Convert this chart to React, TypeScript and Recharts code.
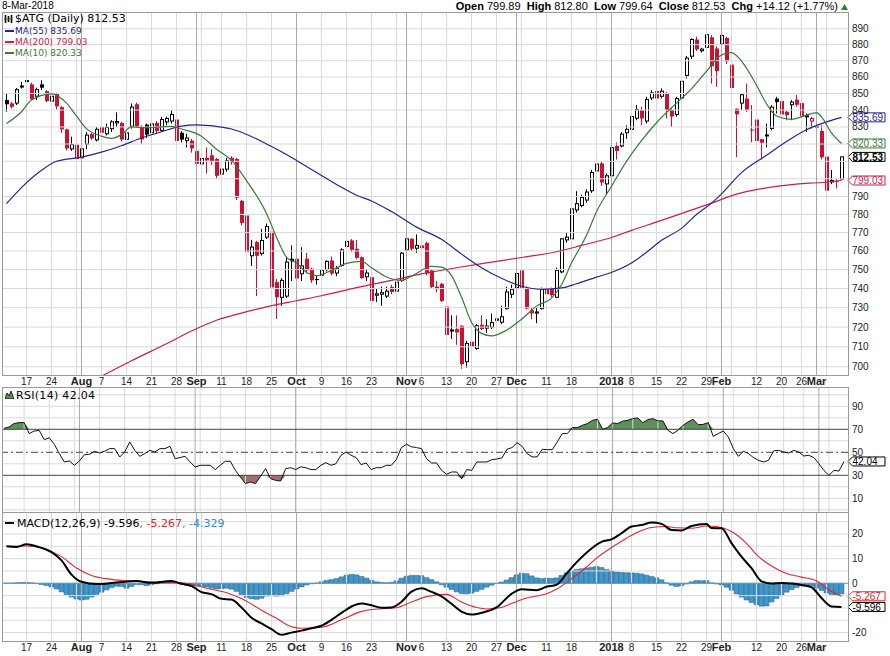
import React from 'react';
import {
  ComposedChart, Bar, Line, Area, XAxis, YAxis, ReferenceLine, ReferenceDot,
} from 'recharts';

// trading calendar (weekdays minus market holidays)
const holidays = ['2017-09-04', '2017-12-25', '2017-12-26', '2018-01-01', '2018-02-19'];

const open = [
  846, 844, 844.2, 854.3, 857.6, 855.5, 848.3, 855.5, 851.4, 845.4,
  849.8, 841.8, 828.6, 817.2, 819.7, 812, 820, 825.8, 822.4, 830,
  826, 829, 832.4, 832.4, 822.7, 830.4, 843.5, 830, 831.4, 826.6,
  832.4, 828, 833, 833.5, 834.4, 826.6, 822, 822, 816, 808.5,
  812, 813.5, 811.3, 802.7, 805.5, 812, 811.3, 787.6, 779.4, 757.4,
  764.8, 758.7, 767.5, 770.5, 743.4, 735.4, 736, 755.8, 755.8, 747.8,
  755.8, 750.5, 745, 747, 750, 754.9, 748.2, 752.3, 762.5, 765.7,
  761.2, 756.6, 746.2, 746, 736.5, 737, 736, 740.8, 738.6, 744.3,
  760.6, 766.6, 761.5, 763, 764.3, 749.6, 741, 742.5, 730.6, 718,
  719, 720.7, 702.5, 712.5, 709.2, 721.2, 719.5, 720, 723.5, 722.5,
  729.5, 737, 740.5, 749.6, 740.2, 728.7, 727.2, 729.5, 739.6, 739.6,
  735.4, 748.8, 766, 766.6, 782.5, 785, 788, 793.2, 804.5, 808.8,
  797.1, 801.7, 818.9, 818.9, 826.6, 828.6, 835.2, 840, 833.5, 847.3,
  851.4, 848.3, 850.3, 840.2, 837.4, 847.3, 861, 872.8, 883.2, 876.2,
  878.3, 884.6, 877.6, 880.4, 884.2, 867.6, 840.8, 844.2, 846.9, 828.5,
  834.4, 822.8, 825, 829.2, 846.9, 845.4, 839, 843.2, 846.3, 844.2,
  836.3, 833.5, 830.4, 827.6, 812.7, 798.2, 798.9, 799.89,
];
const high = [
  850, 845, 853.3, 857, 859.5, 856.5, 853.5, 858, 852, 849.5,
  850.5, 842.4, 829, 824.3, 820, 821, 827, 826.5, 830, 831,
  832, 834, 838.7, 833, 827.5, 844, 844.5, 831, 832, 834,
  833.5, 836, 836, 840, 835, 827.5, 826, 823, 817, 814,
  818, 817, 812, 812, 812, 813, 812, 788, 780, 766,
  765.5, 772, 775, 771, 745, 745.5, 757, 763, 756, 762,
  759, 751, 747, 752, 755, 757, 752, 761.5, 771, 766.5,
  766, 757, 750, 747, 740, 741, 741, 742, 744.5, 759.5,
  770, 767, 769, 764, 765, 750, 744, 743, 733, 726,
  726, 721, 713, 714, 721.5, 726, 724, 727, 728, 731,
  741, 742, 752, 757.4, 741, 730, 730, 740.5, 741, 740.5,
  751, 767, 770, 784, 793, 791, 794, 805, 810, 810,
  803, 819, 821, 827, 831, 837, 843, 842, 848, 852,
  853, 853, 851, 841, 848, 859, 873, 884, 885, 878,
  888, 886, 879, 897, 885, 868, 841, 850, 856, 843,
  835, 823, 832, 843, 848, 846, 840, 846, 849, 845,
  838, 836, 831, 831, 813, 805, 800, 812.8,
];
const low = [
  839, 841, 843, 853, 856.5, 845.8, 846, 852, 844.8, 843.3,
  840.3, 826.4, 816.3, 816, 808, 810, 817, 822.5, 821.5, 825.5,
  825, 827, 830, 821.5, 821.5, 829, 829.5, 820, 823.5, 825.5,
  826.5, 827, 831, 832, 819, 821, 818, 815, 806, 802,
  803, 808, 800, 797, 804, 808, 788, 774, 758, 752,
  736, 757.5, 766.5, 738, 724.1, 731, 735, 744, 740, 744,
  748, 743, 742, 744, 749, 747, 746.5, 751.5, 761.5, 759.5,
  755.5, 745, 744, 733, 733, 731, 735, 737, 737.5, 743.5,
  760, 760, 759, 759.5, 747, 740, 738, 733, 715.5, 714,
  711, 699, 699.5, 709, 708.5, 718.5, 717, 719, 721, 721.5,
  729, 735, 740, 739.5, 729, 724, 722, 729, 736, 735.5,
  735, 748, 764.5, 766, 781, 784, 786.5, 792, 803, 796,
  791, 800, 811, 818, 823, 827, 834, 831, 832, 846,
  845, 847, 835, 830, 836, 846, 859, 871, 876, 875,
  877, 856, 854, 878, 868, 849, 812.4, 840, 839, 821,
  821, 811, 818, 828, 838, 836, 834, 834, 842, 834,
  827, 829, 828, 811, 792, 797, 794.5, 799.64,
];
const close = [
  843.5, 842, 852.3, 854.5, 857.8, 846.5, 852.3, 853.5, 845.4, 848.3,
  842.2, 828.6, 817.4, 819.7, 811.3, 817.2, 825.2, 823.3, 828.6, 826.6,
  829.7, 833, 833.2, 822.6, 826.5, 841.8, 830.4, 822.7, 825.5, 831.8,
  827.6, 834.4, 835, 837.4, 821.8, 822.6, 823.5, 817.4, 808.5, 811.6,
  810.5, 809.9, 801.7, 805.5, 810.3, 809.8, 789.3, 775.3, 759.4, 762.1,
  757.4, 765.7, 773.3, 740.6, 735.4, 744.3, 754, 754.5, 745.3, 752,
  749.6, 744.3, 744.5, 749.6, 754.4, 747.9, 750.5, 760.6, 765.2, 760.6,
  756.3, 745.6, 748.2, 733.5, 737.2, 737.8, 738.6, 738.2, 743.4, 758.8,
  766.6, 761.2, 763, 761.5, 747.9, 740.8, 739.6, 733.5, 716, 718.5,
  717.3, 701.3, 711.7, 710, 720.7, 719, 720.5, 722.3, 724.2, 725.3,
  738.2, 739.6, 747.9, 740.2, 729.5, 727, 727.8, 739.6, 737, 736.5,
  749.6, 766.6, 767.5, 783.1, 786, 789.5, 792.5, 803.6, 808.4, 797.9,
  801.7, 817.9, 816, 825.8, 828.6, 836.2, 840.2, 835, 846.3, 850.3,
  846.9, 851.4, 840.2, 836.2, 846.9, 857.4, 871.6, 883.2, 877, 877.2,
  886.2, 866.6, 863.6, 885.8, 869.6, 853.3, 837.5, 849.2, 840.2, 828,
  821.8, 820.8, 825.3, 841.8, 844.8, 837.4, 837, 844.8, 843.2, 836.2,
  836.6, 835, 829.4, 812.3, 793.2, 799, 798.41, 812.53,
];

// moving averages, read at [bar index, value]
const ma10Pts = [
  [0, 832], [3, 839], [5, 846], [9, 849.8], [12, 844.2], [14, 836.5], [16, 829], [19, 824.6],
  [21, 823.3], [23, 825.5], [25, 830], [28, 829.5], [31, 830], [33, 830.4], [35, 828.8],
  [39, 824.6], [42, 817], [45, 810.5], [48, 799], [52, 780.5], [54, 767.5], [56, 756.6],
  [58, 753.5], [60, 748.5], [62, 746.8], [65, 749.6], [68, 753.3], [71, 754.4], [73, 751],
  [76, 746.1], [79, 744.3], [81, 746.5], [85, 751.7], [87, 751.3], [89, 746.8], [91, 735.5],
  [93, 722.5], [95, 716.8], [97, 715.5], [100, 718.4], [103, 724], [106, 730.8], [109, 735],
  [111, 742], [113, 753.5], [116, 768.5], [118, 781.5], [121, 795.8], [124, 810], [127, 822],
  [130, 832.5], [134, 844.2], [137, 852.8], [140, 863.5], [143, 873.5], [145, 875],
  [147, 869.8], [150, 855], [152, 843.8], [154, 836.5], [157, 834.5], [160, 837],
  [162, 838.5], [163, 836], [165, 826.5], [167, 820.33],
];
const ma55Pts = [
  [0, 786], [3, 795], [7, 804.8], [10, 810], [15, 812.4], [19, 815.3], [23, 819], [27, 823.5],
  [31, 827.2], [35, 830.5], [38, 831.2], [42, 830.3], [45, 828.8], [49, 824.4], [52, 820],
  [55, 815.5], [58, 810.5], [61, 805.3], [66, 796.8], [70, 790.7], [73, 787.5], [77, 781.6],
  [82, 773], [87, 766.3], [91, 758.3], [95, 751], [99, 745.4], [103, 741.2], [107, 739.6],
  [111, 740.3], [114, 742.5], [118, 746], [121, 748.5], [125, 753.5], [128, 759.3],
  [131, 765.8], [135, 772.3], [138, 780], [141, 786.3], [143, 791.5], [147, 803.5],
  [152, 813.5], [156, 821.5], [160, 828.4], [163, 832], [167, 835.69],
];
const ma200Pts = [
  [19, 695.3], [25, 703], [32, 711.5], [37, 718], [42, 723.5], [47, 727.2], [52, 730.4],
  [58, 733.6], [63, 736.2], [70, 740.5], [77, 744.3], [83, 747.7], [90, 751], [97, 754],
  [103, 756.5], [110, 759.6], [115, 763], [121, 767.3], [125, 771.2], [131, 776.7],
  [135, 780.5], [141, 786.3], [146, 791.3], [151, 794.4], [158, 797], [163, 797.9],
  [167, 799.03],
];

const rsi14 = [
  70.8, 72, 75, 75.8, 75.8, 66.3, 68.5, 69, 61, 62.6,
  57, 48.9, 41.6, 42.5, 38.7, 42.5, 48, 48.3, 50.9, 49.4,
  50.9, 53.2, 53.2, 45.9, 50.3, 59, 51.7, 46.5, 48.9, 51.7,
  50.3, 53.2, 53.2, 55.2, 44.5, 45.4, 46.5, 41.6, 37.2, 38.7,
  38.7, 38.7, 35, 38.7, 42.2, 42.2, 34.3, 28.5, 22.8, 24.2,
  22.8, 29.1, 35.8, 27.1, 25.6, 25, 35.8, 36.6, 35, 37.4,
  36.6, 35, 35, 38.7, 41, 38.7, 40.1, 47.4, 50.3, 47.4,
  45.4, 39.3, 40.7, 35, 36.6, 36.6, 38.7, 38.7, 43.6, 54.1,
  57, 54.8, 54.1, 53.2, 44.5, 40.7, 40.7, 34.3, 30.9, 32.9,
  32.9, 27.1, 35, 34.3, 41.6, 41.6, 41.6, 43.6, 44.2, 45.1,
  52.6, 54.1, 58.4, 55.2, 48.9, 46, 46, 52.6, 52.3, 52.3,
  59, 66.3, 66.3, 71.5, 71.5, 73.5, 75, 77.8, 78.7, 70,
  71.5, 75.5, 75, 77.1, 77.8, 79.3, 79.9, 75.8, 78.4, 79.3,
  77.3, 77.3, 69.1, 66.3, 69.1, 73.5, 76.4, 78.7, 74, 74.3,
  75.8, 63.9, 66.3, 68.5, 63.3, 53.2, 46.5, 50.9, 48.9, 45.4,
  43, 41.6, 43, 51.2, 51.7, 50.3, 49.4, 51.7, 50.3, 46.8,
  47.4, 45.4, 40.1, 34.3, 30, 34.3, 33.7, 42.04,
];

const macdPts = [
  [0, 15], [2, 14.7], [4, 15.8], [6, 15], [9, 12.6], [11, 9.3], [13, 3.5], [15, 0.6],
  [18, -0.3], [22, 0.3], [26, 0.9], [29, 0.2], [33, 0.9], [35, -0.2], [37, -1.1], [39, -3.6],
  [41, -4.4], [43, -6.3], [45, -6.6], [47, -9.8], [49, -14], [51, -16.3], [53, -18.6],
  [55, -20.9], [57, -20], [59, -19.2], [61, -18.2], [63, -17.2], [65, -14.8], [67, -12],
  [69, -9.4], [71, -8.2], [73, -8.9], [75, -9.9], [77, -9.8], [79, -7.5], [81, -3.4],
  [83, -2], [85, -3.5], [87, -5.3], [89, -8.3], [91, -11.5], [93, -12.7], [95, -12],
  [98, -9.8], [101, -4.3], [103, -2.4], [106, -2.8], [108, -1.4], [110, -0.6], [112, 3.9],
  [114, 8.5], [116, 12.4], [119, 16.8], [121, 17.8], [123, 20.3], [125, 23], [127, 23.6],
  [129, 24.6], [131, 24.1], [133, 21.6], [135, 21.4], [137, 23.2], [140, 24], [141, 22.4],
  [143, 22.3], [145, 16.3], [147, 10.8], [149, 6.1], [151, 0.8], [153, -0.1], [155, 0.1],
  [157, -0.1], [159, -0.7], [161, -1.6], [163, -6], [165, -9.4], [167, -9.596],
];
const signalPts = [
  [0, 15], [4, 15.1], [7, 14.3], [11, 10.8], [14, 6.2], [17, 3.2], [21, 1.6], [25, 0.9],
  [30, 0.5], [33, 0.4], [37, -0.3], [40, -2], [44, -3.8], [47, -6.2], [51, -10.9],
  [54, -14.2], [57, -17.6], [59, -18.2], [63, -17.8], [67, -14.8], [71, -11.4], [75, -10.3],
  [78, -9.9], [81, -7.6], [84, -5.4], [88, -4.5], [91, -7.6], [94, -9.8], [96, -10.4],
  [99, -9.8], [101, -8.2], [104, -6], [108, -4.2], [110, -2.4], [113, 1.8], [116, 6.5],
  [118, 10.2], [121, 14.5], [124, 18.3], [126, 20.5], [129, 22.6], [132, 23], [134, 22.5],
  [137, 22.3], [140, 23.2], [142, 23], [145, 21], [148, 16.2], [150, 11.6], [153, 7],
  [156, 4], [159, 2.5], [162, 1], [164, -2], [167, -5.267],
];
const histogram = [
  0.1, 0.1, 0.2, 0.3, 0.4, 0.2, -0.1, -0.5, -0.9, -1.5,
  -2.3, -3.5, -4.6, -5.6, -6.4, -6.8, -6.5, -5.6, -4.5, -3.6,
  -2.7, -1.8, -1.2, -1.3, -2, -1.3, -0.5, -0.6, -1, -0.6,
  -0.2, 0.1, 0.3, 0.6, 0.2, -0.4, -0.7, -1, -1.2, -1.2,
  -1.5, -2, -2.3, -2.2, -2, -2.4, -3.3, -4.6, -5.8, -6.3,
  -6.5, -6.1, -5.2, -5, -5.2, -5.1, -4.3, -3.3, -2.3, -1.5,
  -0.7, -0.2, 0.1, 0.6, 1.2, 1.5, 1.9, 2.6, 3.3, 3.6,
  3.4, 2.8, 2.1, 1.2, 0.6, 0.3, 0.2, 0.4, 1, 2.1,
  2.9, 3.2, 3.2, 3.1, 2.3, 1.5, 0.6, -0.6, -1.6, -2.5,
  -3.5, -4.2, -4.3, -4, -3.3, -2.5, -1.6, -0.8, -0.1, 0.5,
  1.3, 2.3, 3.4, 4.1, 3.9, 3, 2.2, 1.9, 2.1, 2,
  2.2, 3.2, 4.2, 5, 5.6, 5.9, 6.2, 6.5, 6.8, 6.4,
  5.6, 5, 4.6, 4.4, 4.3, 4.2, 4.1, 3.8, 3.3, 2.8,
  2.2, 1.4, 0.2, -0.8, -1.3, -1, -0.3, 0.6, 1.1, 1,
  1.1, 0.2, -0.3, -0.7, -1.6, -2.8, -4.3, -5.6, -6.8, -7.8,
  -8.7, -9.3, -9.2, -7.6, -6.2, -4.8, -3.6, -2.6, -1.7, -1.1,
  -0.8, -1, -1.9, -2.9, -3.9, -4.6, -4.8, -4.329,
];

const xLabels: [string, string][] = [
  ['2017-07-17', '17'], ['2017-07-24', '24'], ['2017-08-01', 'Aug'], ['2017-08-07', '7'],
  ['2017-08-14', '14'], ['2017-08-21', '21'], ['2017-08-28', '28'], ['2017-09-01', 'Sep'],
  ['2017-09-11', '11'], ['2017-09-18', '18'], ['2017-09-25', '25'], ['2017-10-02', 'Oct'],
  ['2017-10-09', '9'], ['2017-10-16', '16'], ['2017-10-23', '23'], ['2017-11-01', 'Nov'],
  ['2017-11-06', '6'], ['2017-11-13', '13'], ['2017-11-20', '20'], ['2017-11-27', '27'],
  ['2017-12-01', 'Dec'], ['2017-12-11', '11'], ['2017-12-18', '18'], ['2018-01-02', '2018'],
  ['2018-01-08', '8'], ['2018-01-15', '15'], ['2018-01-22', '22'], ['2018-01-29', '29'],
  ['2018-02-01', 'Feb'], ['2018-02-12', '12'], ['2018-02-20', '20'], ['2018-02-26', '26'],
  ['2018-03-01', 'Mar'],
];

const priceTicks = [700, 710, 720, 730, 740, 750, 760, 770, 780, 790, 800, 810, 820, 830, 840, 850, 860, 870, 880, 890];
const priceLabelTicks = priceTicks.filter((v) => v < 800 || v > 820);
const rsiGrid = [0, 10, 20, 40, 60, 80, 90, 100];
const rsiTicks = [10, 30, 50, 70, 90];
const macdGrid = [-20, -15, -10, -5, 5, 10, 15, 20, 25];
const macdTicks = [-20, 0, 10, 20];

// ---- colours / fonts / layout ----
const RED = '#cc1133';
const INK = '#000';
const NAVY = '#26268a';
const CRIMSON = '#c81e4a';
const GREEN = '#3a7a3a';
const SIGNAL = '#e3262b';
const HIST = '#4596c8';
const SANS = '"Liberation Sans", Arial, sans-serif';
const DEJA = '"DejaVu Sans", Verdana, sans-serif';
const W = 890;
const AXIS_W = 42;
const PLOT_R = W - AXIS_W;
const XPAD = { left: 1, right: 4 };

function tradingDays() {
  const out: string[] = [];
  const d = new Date(Date.UTC(2017, 6, 11));
  const end = Date.UTC(2018, 2, 8);
  while (d.getTime() <= end) {
    const wd = d.getUTCDay();
    const iso = d.toISOString().slice(0, 10);
    if (wd !== 0 && wd !== 6 && !holidays.includes(iso)) out.push(iso);
    d.setUTCDate(d.getUTCDate() + 1);
  }
  return out;
}

const days = tradingDays();
const lookup = (pts: number[][]) => {
  const m = new Map(pts.map(([i, v]) => [i, v]));
  return (i: number) => m.get(i);
};
const ma10At = lookup(ma10Pts);
const ma55At = lookup(ma55Pts);
const ma200At = lookup(ma200Pts);
const macdAt = lookup(macdPts);
const sigAt = lookup(signalPts);

const rows = days.map((date, i) => ({
  date,
  range: [low[i], high[i]],
  o: open[i], h: high[i], l: low[i], c: close[i],
  pc: i > 0 ? close[i - 1] : close[i],
  ma10: ma10At(i), ma55: ma55At(i), ma200: ma200At(i),
  rsi: rsi14[i],
  rsiHi: Math.max(rsi14[i], 70),
  rsiLo: Math.min(rsi14[i], 30),
  macd: macdAt(i), signal: sigAt(i), hist: histogram[i],
}));
const lastDate = days[days.length - 1];

const weekStarts: string[] = [];
const monthStarts: string[] = [];
days.forEach((d, i) => {
  if (i === 0) return;
  const prev = new Date(days[i - 1] + 'T00:00:00Z');
  const cur = new Date(d + 'T00:00:00Z');
  if (cur.getUTCDay() < prev.getUTCDay()) weekStarts.push(d);
  if (d.slice(0, 7) !== days[i - 1].slice(0, 7)) monthStarts.push(d);
});

const labelText = new Map(xLabels);

function DateTick({ x, y, payload }: any) {
  const t = labelText.get(payload.value) ?? '';
  const bold = /[A-Za-z]/.test(t) || t === '2018';
  return (
    <text x={x} y={y + 10} textAnchor="middle" fontFamily={SANS}
      fontSize={bold ? 11 : 10} fontWeight={bold ? 700 : 400} fill="#222">{t}</text>
  );
}

function ValueTick({ x, y, payload }: any) {
  return (
    <text x={x} y={y + 3.5} textAnchor="start" fontFamily={SANS} fontSize={10} fill="#222">
      {payload.value}
    </text>
  );
}

function Candle(props: any) {
  const { x, y, width, height, payload } = props;
  if (x == null || y == null || !payload) return null;
  const { o, h, l, c, pc } = payload;
  const cx = Math.floor(x + width / 2);
  const lh = Math.log(h);
  const span = lh - Math.log(l);
  const yOf = (v: number) => (span > 0 ? y + ((lh - Math.log(v)) / span) * height : y);
  const color = c >= pc ? INK : RED;
  const yTop = yOf(Math.max(o, c));
  const bodyH = Math.max(yOf(Math.min(o, c)) - yTop, 1);
  const wx = cx + 0.5;
  if (c > o) {
    return (
      <g>
        <line x1={wx} x2={wx} y1={y} y2={yTop} stroke={color} />
        <line x1={wx} x2={wx} y1={yTop + bodyH} y2={y + height} stroke={color} />
        <rect x={cx - 0.5} y={yTop} width={3} height={bodyH} fill="#fff" stroke={color} />
      </g>
    );
  }
  return (
    <g>
      <line x1={wx} x2={wx} y1={y} y2={y + height} stroke={color} />
      <rect x={cx - 1} y={yTop} width={4} height={bodyH} fill={color} />
    </g>
  );
}

function tag(text: string, color: string, bold = false) {
  return (p: any) => {
    const cy = p.cy;
    const x0 = PLOT_R;
    const hh = 4.5;
    return (
      <g>
        <path d={`M${x0},${cy} L${x0 + 4.5},${cy - hh} L${x0 + 37},${cy - hh} L${x0 + 37},${cy + hh} L${x0 + 4.5},${cy + hh} Z`}
          fill="#fff" stroke={color} strokeWidth={1} />
        <text x={x0 + 4.5} y={cy + 3.6} fontFamily={SANS} fontSize={10} fontWeight={bold ? 700 : 400} fill={color}>{text}</text>
      </g>
    );
  };
}

const vGrid = () => [
  ...weekStarts.map((d) => <ReferenceLine key={'w' + d} x={d} stroke="#dadada" />),
  ...monthStarts.map((d) => <ReferenceLine key={'m' + d} x={d} stroke="#a9a9a9" />),
];

function PriceChart() {
  return (
    <ComposedChart width={W} height={390} data={rows} margin={{ top: 13, right: 0, bottom: 0, left: 3 }} barCategoryGap={0}>
      <XAxis dataKey="date" ticks={xLabels.map((l) => l[0])} interval={0} tick={<DateTick />}
        tickLine={false} axisLine={false} tickSize={0} tickMargin={0} height={15} padding={XPAD} />
      <YAxis orientation="right" scale="log" domain={[695.9, 900]} allowDataOverflow ticks={priceLabelTicks}
        interval={0} tick={<ValueTick />} width={AXIS_W} axisLine={false} tickLine={false} tickSize={0} tickMargin={4} />
      {priceTicks.map((v) => <ReferenceLine key={'h' + v} y={v} stroke="#dadada" />)}
      {vGrid()}
      <Bar dataKey="range" shape={<Candle />} isAnimationActive={false} />
      <Line type="monotone" dataKey="ma200" stroke={CRIMSON} strokeWidth={1.2} dot={false} connectNulls isAnimationActive={false} />
      <Line type="monotone" dataKey="ma55" stroke={NAVY} strokeWidth={1.2} dot={false} connectNulls isAnimationActive={false} />
      <Line type="monotone" dataKey="ma10" stroke={GREEN} strokeWidth={1.2} dot={false} connectNulls isAnimationActive={false} />
      <ReferenceDot x={lastDate} y={835.69} r={0} shape={tag('835.69', NAVY)} />
      <ReferenceDot x={lastDate} y={820.33} r={0} shape={tag('820.33', GREEN)} />
      <ReferenceDot x={lastDate} y={812.53} r={0} shape={tag('812.53', INK, true)} />
      <ReferenceDot x={lastDate} y={799.03} r={0} shape={tag('799.03', CRIMSON)} />
    </ComposedChart>
  );
}

function RsiChart() {
  return (
    <ComposedChart width={W} height={124} data={rows} margin={{ top: 0, right: 0, bottom: 0, left: 3 }}>
      <XAxis dataKey="date" hide padding={XPAD} />
      <YAxis orientation="right" domain={[-1.9, 105.9]} allowDataOverflow ticks={rsiTicks} interval={0}
        tick={<ValueTick />} width={AXIS_W} axisLine={false} tickLine={false} tickSize={0} tickMargin={4} />
      {rsiGrid.map((v) => <ReferenceLine key={'h' + v} y={v} stroke="#dadada" />)}
      {vGrid()}
      <Area type="linear" dataKey="rsiHi" baseValue={70} stroke="none" fill="#5e8e5e" fillOpacity={1} isAnimationActive={false} />
      <Area type="linear" dataKey="rsiLo" baseValue={30} stroke="none" fill="#a06e6e" fillOpacity={1} isAnimationActive={false} />
      <ReferenceLine y={70} stroke="#444" />
      <ReferenceLine y={30} stroke="#444" />
      <ReferenceLine y={50} stroke="#444" strokeDasharray="7 3 2 3" />
      <Line type="linear" dataKey="rsi" stroke="#111" strokeWidth={1} dot={false} isAnimationActive={false} />
      <ReferenceDot x={lastDate} y={42.04} r={0} shape={tag('42.04', INK)} />
    </ComposedChart>
  );
}

function MacdChart() {
  return (
    <ComposedChart width={W} height={143} data={rows} margin={{ top: 0, right: 0, bottom: 0, left: 3 }} barCategoryGap={0}>
      <XAxis dataKey="date" ticks={xLabels.map((l) => l[0])} interval={0} tick={<DateTick />}
        tickLine={false} axisLine={false} tickSize={0} tickMargin={0} height={15} padding={XPAD} />
      <YAxis orientation="right" domain={[-23.4, 28.5]} allowDataOverflow ticks={macdTicks} interval={0}
        tick={<ValueTick />} width={AXIS_W} axisLine={false} tickLine={false} tickSize={0} tickMargin={4} />
      {macdGrid.map((v) => <ReferenceLine key={'h' + v} y={v} stroke="#dadada" />)}
      {vGrid()}
      <Bar dataKey="hist" fill={HIST} stroke="#2d6890" strokeWidth={0.5} isAnimationActive={false} />
      <ReferenceLine y={0} stroke="#5d9cc6" />
      <Line type="monotone" dataKey="signal" stroke={SIGNAL} strokeWidth={1.1} dot={false} connectNulls isAnimationActive={false} />
      <Line type="monotone" dataKey="macd" stroke="#000" strokeWidth={2} dot={false} connectNulls isAnimationActive={false} />
      <ReferenceDot x={lastDate} y={-5.267} r={0} shape={tag('-5.267', SIGNAL)} />
      <ReferenceDot x={lastDate} y={-9.596} r={0} shape={tag('-9.596', INK)} />
    </ComposedChart>
  );
}

const abs = (left: number, top: number, extra: React.CSSProperties = {}): React.CSSProperties => ({
  position: 'absolute', left, top, ...extra,
});

function Frame({ top, height }: { top: number; height: number }) {
  return (
    <div style={abs(2, top, {
      width: PLOT_R - 1, height, border: '1px solid #9a9a9a', boxSizing: 'border-box', pointerEvents: 'none',
    })} />
  );
}

function Dash({ top, color }: { top: number; color: string }) {
  return <div style={abs(5, top, { width: 9, height: 2, background: color })} />;
}

export default function App() {
  return (
    <div style={{ position: 'absolute', left: 0, top: 0, width: W, height: 656, background: '#fff', overflow: 'hidden' }}>
      <div style={abs(0, 0)}><PriceChart /></div>
      <div style={abs(0, 388)}><RsiChart /></div>
      <div style={abs(0, 513)}><MacdChart /></div>

      <Frame top={12} height={364} />
      <Frame top={387} height={126} />
      <Frame top={512} height={130} />

      <div style={abs(2, 0, { font: `10px ${SANS}`, lineHeight: '12px', color: '#000' })}>8-Mar-2018</div>
      <div style={abs(0, 0, { right: 52, left: 'auto', font: `11px ${SANS}`, lineHeight: '12px', color: '#000', whiteSpace: 'nowrap' })}>
        <b>Open</b> 799.89&nbsp; <b>High</b> 812.80&nbsp; <b>Low</b> 799.64&nbsp; <b>Close</b> 812.53&nbsp; <b>Chg</b> +14.12 (+1.77%)
      </div>
      <svg style={abs(841, 4)} width={7} height={6}><path d="M0,6 L3.5,0 L7,6 Z" fill="#2e7d32" /></svg>

      <svg style={abs(4, 14)} width={10} height={10}>
        <path d="M1.5,1 V9 M4.5,2 V8 M7.5,1 V9" stroke="#000" strokeWidth={1.6} />
        <path d="M0,5 H9" stroke="#2e7d32" strokeWidth={1} />
      </svg>
      <div style={abs(15, 12, { font: `11px ${DEJA}`, lineHeight: '13px', color: '#000' })}>$ATG (Daily) 812.53</div>

      <Dash top={30} color={NAVY} />
      <div style={abs(15, 25.5, { font: `9px ${DEJA}`, lineHeight: '11px', color: NAVY })}>MA(55) 835.69</div>
      <Dash top={41} color={CRIMSON} />
      <div style={abs(15, 36.5, { font: `9px ${DEJA}`, lineHeight: '11px', color: CRIMSON })}>MA(200) 799.03</div>
      <Dash top={52} color={GREEN} />
      <div style={abs(15, 47.5, { font: `9px ${DEJA}`, lineHeight: '11px', color: GREEN })}>MA(10) 820.33</div>

      <svg style={abs(5, 390)} width={9} height={9}>
        <path d="M0,9 L2,3 L4,6 L6,1 L9,9 Z" fill="#5e8e5e" stroke="#000" strokeWidth={0.8} />
      </svg>
      <div style={abs(16, 388.5, { font: `11px ${DEJA}`, lineHeight: '13px', color: '#000', letterSpacing: 0.3 })}>RSI(14) 42.04</div>

      <Dash top={522} color="#000" />
      <div style={abs(17, 516.5, { font: `11px ${DEJA}`, lineHeight: '13px', color: '#000', whiteSpace: 'nowrap' })}>
        MACD(12,26,9) -9.596<span style={{ color: SIGNAL }}>, -5.267</span><span style={{ color: '#2f8fc7' }}>, -4.329</span>
      </div>
    </div>
  );
}
